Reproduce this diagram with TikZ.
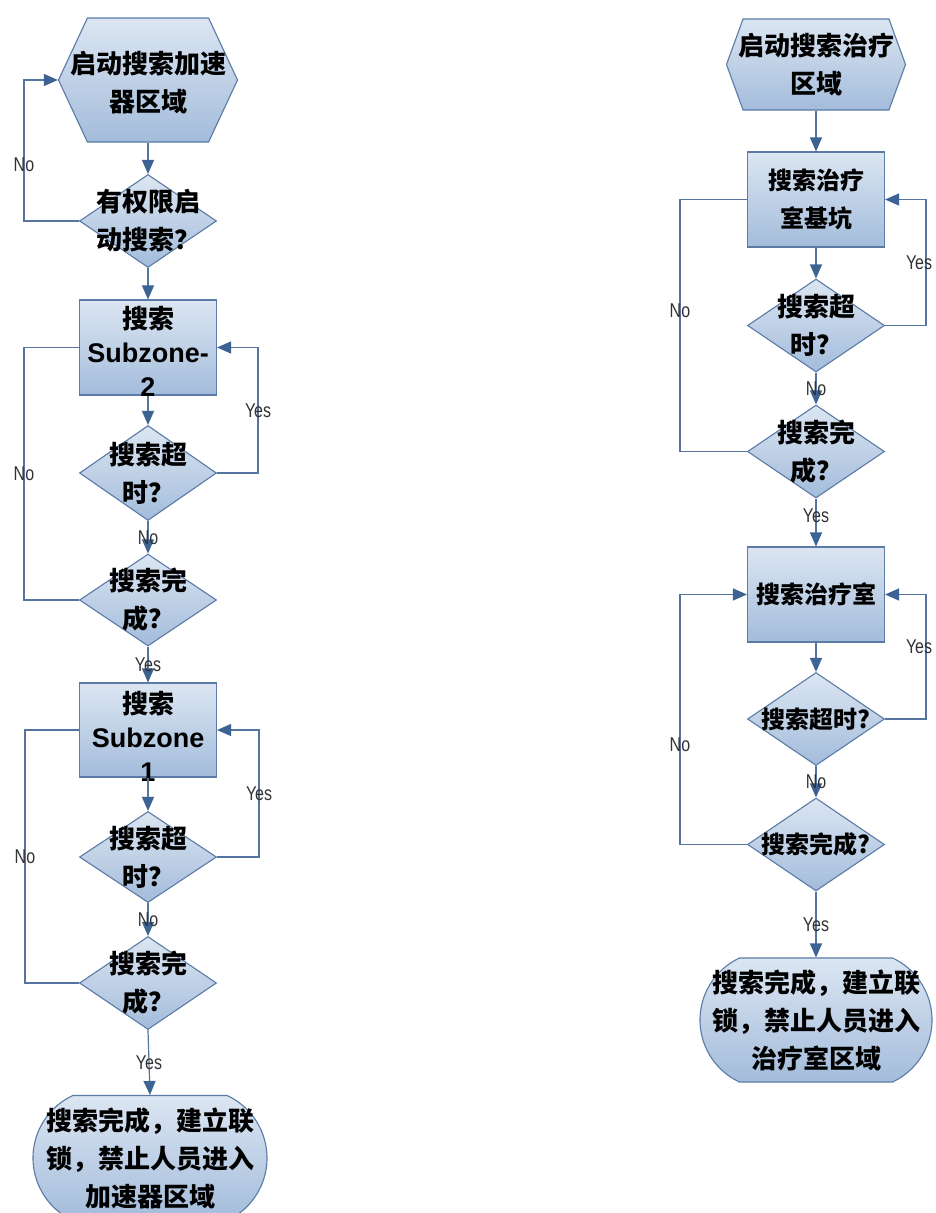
\documentclass[tikz,border=0pt]{standalone}
\usepackage{fontspec}
\newfontfamily\cjk{Noto Sans CJK SC}
\newfontfamily\subfont{Liberation Sans}
\newfontfamily\lblfont{Liberation Sans}[FakeStretch=0.8]
\usetikzlibrary{shapes.geometric,shapes.symbols,shapes.misc,arrows.meta}
\definecolor{boxtop}{HTML}{DCE6F2}
\definecolor{boxbot}{HTML}{A3BCDB}
\definecolor{boxline}{HTML}{5B7BA6}
\definecolor{linkcol}{HTML}{56759E}
\definecolor{tipcol}{HTML}{3C6394}
\newcommand\subz[1]{{\subfont\bfseries\fontsize{27}{34}\selectfont #1}}
\tikzset{
  shp/.style={draw=boxline, line width=1.1pt, top color=boxtop, bottom color=boxbot, inner sep=0pt},
  hexbox/.style={shp, signal, signal to=west and east, minimum width=179pt},
  procbox/.style={shp, rectangle, minimum width=137pt, minimum height=95pt},
  decbox/.style={shp, diamond, minimum width=137pt, minimum height=93pt},
  endbox/.style={shp, rounded rectangle, rounded rectangle arc length=130, minimum width=234pt, minimum height=125pt},
  txt/.style={align=center, inner sep=0pt, font=\cjk\bfseries\fontsize{26}{38}\selectfont},
  small/.style={font=\cjk\bfseries\fontsize{24}{38}\selectfont},
  lbl/.style={inner sep=0pt, text=black!80, font=\lblfont\fontsize{20}{20}\selectfont},
  link/.style={draw=linkcol, line width=1.2pt},
  flow/.style={link, -{Triangle[length=14pt,width=12pt,color=tipcol]}},
}
\begin{document}
\begin{tikzpicture}[x=1pt,y=-1pt]
\useasboundingbox[fill=white] (0,0) rectangle (936,1213);
% accelerator side
\node[hexbox, minimum height=124pt, signal pointer angle=130] (hexL) at (148,80) {};
\node[decbox] (dL1) at (148,221) {};
\node[procbox] (rL1) at (148,347.5) {};
\node[decbox, minimum height=95pt] (dL2) at (148,473) {};
\node[decbox, minimum height=92pt] (dL3) at (148,600) {};
\node[procbox, minimum height=94pt] (rL2) at (148,730) {};
\node[decbox, minimum height=91pt] (dL4) at (148,857) {};
\node[decbox] (dL5) at (148,983) {};
\node[endbox] (tL) at (150,1158) {};
\node[txt] (hexLt) at (148,83) {启动搜索加速\\器区域};
\node[txt] (dL1t) at (dL1) {有权限启\\动搜索？};
\node[txt, font=\cjk\bfseries\fontsize{26}{34}\selectfont] (rL1t) at (148,351) {搜索\\\subz{Subzone-}\\\subz{2}};
\node[txt] (dL2t) at (dL2) {搜索超\\时？};
\node[txt] (dL3t) at (dL3) {搜索完\\成？};
\node[txt, font=\cjk\bfseries\fontsize{26}{34}\selectfont] (rL2t) at (148,736) {搜索\\\subz{Subzone}\\\subz{1}};
\node[txt] (dL4t) at (dL4) {搜索超\\时？};
\node[txt] (dL5t) at (dL5) {搜索完\\成？};
\node[txt] (tLt) at (tL) {搜索完成，建立联\\锁，禁止人员进入\\加速器区域};
\draw[flow] (hexL.south) -- (dL1.north);
\draw[flow] (dL1.west) -- ++(-55,0) |- node[lbl, pos=0.2] {No} (hexL.west);
\draw[flow] (dL1.south) -- (rL1.north);
\draw[flow] (rL1.south) -- (dL2.north);
\draw[flow] (dL2.east) -- ++(41,0) |- node[lbl, pos=0.25] {Yes} (rL1.east);
\draw[flow] (dL2.south) -- node[lbl] {No} (dL3.north);
\draw[link] (dL3.west) -- ++(-55,0) |- node[lbl, pos=0.25] {No} (rL1.west);
\draw[flow] (dL3.south) -- node[lbl] {Yes} (rL2.north);
\draw[flow] (rL2.south) -- (dL4.north);
\draw[flow] (dL4.east) -- ++(42,0) |- node[lbl, pos=0.25] {Yes} (rL2.east);
\draw[flow] (dL4.south) -- node[lbl] {No} (dL5.north);
\draw[link] (dL5.west) -- ++(-54,0) |- node[lbl, pos=0.25] {No} (rL2.west);
\draw[flow] (dL5.south) -- node[lbl] {Yes} (tL.north);
% treatment room side
\node[hexbox, minimum height=91pt, signal pointer angle=140] (hexR) at (816,64.5) {};
\node[procbox] (rR1) at (816,199.5) {};
\node[decbox] (dR1) at (816,325.5) {};
\node[decbox] (dR2) at (816,451.5) {};
\node[procbox] (rR2) at (816,594.5) {};
\node[decbox] (dR3) at (816,719) {};
\node[decbox] (dR4) at (816,844.5) {};
\node[endbox, minimum width=232pt, minimum height=124pt] (tR) at (816,1020) {};
\node[txt] (hexRt) at (hexR) {启动搜索治疗\\区域};
\node[txt, small] (rR1t) at (rR1) {搜索治疗\\室基坑};
\node[txt] (dR1t) at (dR1) {搜索超\\时？};
\node[txt] (dR2t) at (dR2) {搜索完\\成？};
\node[txt, small] (rR2t) at (rR2) {搜索治疗室};
\node[txt, small] (dR3t) at (dR3) {搜索超时?};
\node[txt, small] (dR4t) at (dR4) {搜索完成?};
\node[txt] (tRt) at (tR) {搜索完成，建立联\\锁，禁止人员进入\\治疗室区域};
\draw[flow] (hexR.south) -- (rR1.north);
\draw[flow] (rR1.south) -- (dR1.north);
\draw[flow] (dR1.east) -- ++(41,0) |- node[lbl, pos=0.25, xshift=-7pt] {Yes} (rR1.east);
\draw[flow] (dR1.south) -- node[lbl] {No} (dR2.north);
\draw[link] (dR2.west) -- ++(-67,0) |- node[lbl, pos=0.28] {No} (rR1.west);
\draw[flow] (dR2.south) -- node[lbl, pos=0.35] {Yes} (rR2.north);
\draw[flow] (rR2.south) -- (dR3.north);
\draw[flow] (dR3.east) -- ++(41,0) |- node[lbl, pos=0.29, xshift=-7pt] {Yes} (rR2.east);
\draw[flow] (dR3.south) -- node[lbl] {No} (dR4.north);
\draw[flow] (dR4.west) -- ++(-67,0) |- node[lbl, pos=0.2] {No} (rR2.west);
\draw[flow] (dR4.south) -- node[lbl] {Yes} (tR.north);
\end{tikzpicture}
\end{document}
